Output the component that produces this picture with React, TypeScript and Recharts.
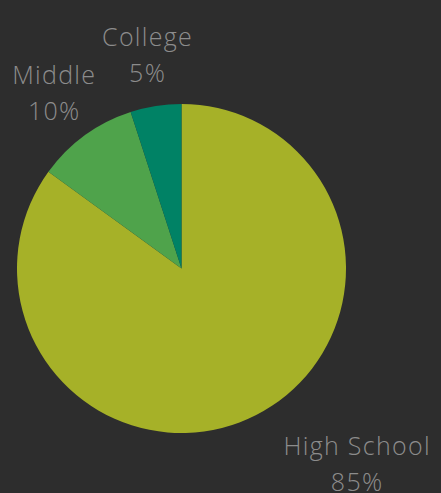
import React from 'react';
import { PieChart, Pie, Cell } from 'recharts';

const categories = ['High School', 'Middle', 'College'];
const values = [85, 10, 5];
const colors = ['#a6b128', '#4fa34b', '#008265'];

const data = categories.map((name, i) => ({ name, value: values[i] }));

const RAD = Math.PI / 180;

const renderLabel = (props: any) => {
  const { cx, cy, midAngle, outerRadius, index, name, percent } = props;
  // High School label sits lower-right of its slice, others just outside
  const extra = index === 0 ? 98 : 52;
  const angle = index === 0 ? midAngle + 15 : midAngle;
  const r = outerRadius + extra;
  const x = cx + r * Math.cos(-angle * RAD);
  const y = cy + r * Math.sin(-angle * RAD);
  return (
    <text
      x={x}
      y={y}
      fill="#8c8c8c"
      textAnchor="middle"
      fontFamily="'Open Sans', sans-serif"
      fontWeight={300}
      fontSize={25}
      letterSpacing={1.3}
    >
      <tspan x={x} dy={-9}>{name}</tspan>
      <tspan x={x} dy={36}>{`${Math.round(percent * 100)}%`}</tspan>
    </text>
  );
};

export default function App() {
  return (
    <div style={{ position: 'absolute', left: 0, top: 0, width: 441, height: 493, background: '#2d2d2d' }}>
      <PieChart width={441} height={493} margin={{ top: 0, right: 0, bottom: 0, left: 0 }}>
        <Pie
          data={data}
          dataKey="value"
          nameKey="name"
          cx={181.5}
          cy={268.5}
          outerRadius={164.5}
          startAngle={90}
          endAngle={-270}
          stroke="none"
          label={renderLabel}
          labelLine={false}
          isAnimationActive={false}
        >
          {data.map((d, i) => (
            <Cell key={d.name} fill={colors[i]} />
          ))}
        </Pie>
      </PieChart>
    </div>
  );
}
